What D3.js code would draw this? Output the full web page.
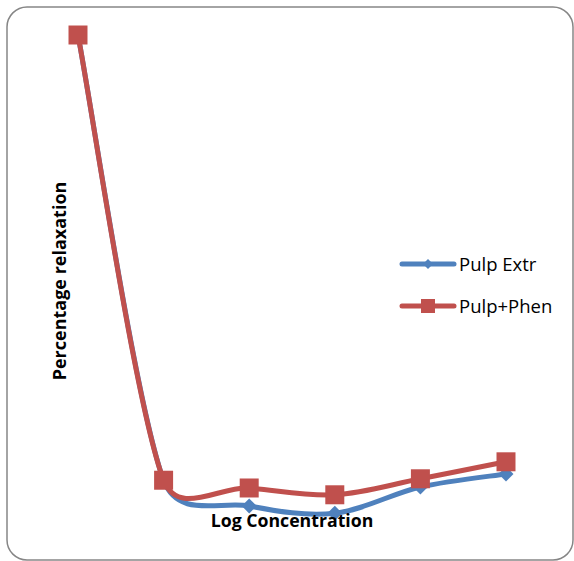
<!DOCTYPE html>
<html><head><meta charset="utf-8">
<script src="https://cdn.jsdelivr.net/npm/d3@7"></script>
<style>body{margin:0;background:#fff}svg{display:block}</style>
</head><body>
<svg id="c" width="574" height="561"></svg>
<script>
const categories = ["c1","c2","c3","c4","c5","c6"];
const pulpExtr = [100, 8.2, 2.9, 1.4, 6.8, 9.5];
const pulpPhen = [100, 8.2, 6.6, 5.2, 8.5, 12.0];
const seriesNames = ["Pulp Extr", "Pulp+Phen"];
const seriesColors = ["#4F81BD", "#C0504D"];

// Excel-like smoothed line: cubic Bezier, arms = tangent/6, capped relative to segment length
function ExcelSmooth(context){ this._context = context; }
ExcelSmooth.prototype = {
  areaStart(){ this._line = 0; }, areaEnd(){ this._line = NaN; },
  lineStart(){ this._pts = []; },
  point(x, y){ this._pts.push([+x, +y]); },
  lineEnd(){
    const p = this._pts, c = this._context, n = p.length;
    if (!n) return;
    c.moveTo(p[0][0], p[0][1]);
    const dist = (a,b)=>Math.hypot(a[0]-b[0], a[1]-b[1]);
    const arm = (i, j) => { // arm at point i pointing towards neighbour j
      const prev = p[Math.max(i-1,0)], next = p[Math.min(i+1,n-1)];
      let tx = (next[0]-prev[0])/6, ty = (next[1]-prev[1])/6;
      if (j < i) { tx = -tx; ty = -ty; }
      const len = Math.hypot(tx, ty), cap = 0.47*dist(p[i], p[j]);
      if (len > cap && len > 0) { tx *= cap/len; ty *= cap/len; }
      return [p[i][0]+tx, p[i][1]+ty];
    };
    for (let i = 0; i < n-1; i++) {
      const a = arm(i, i+1), b = arm(i+1, i);
      c.bezierCurveTo(a[0], a[1], b[0], b[1], p[i+1][0], p[i+1][1]);
    }
  }
};
const curveExcel = ctx => new ExcelSmooth(ctx);

const svg = d3.select("#c");
svg.append("rect").attr("x",7).attr("y",7).attr("width",566).attr("height",553)
  .attr("rx",20).attr("ry",20).attr("fill","#fff").attr("stroke","#868686").attr("stroke-width",1.5);

const x = d3.scalePoint().domain(categories).range([78, 506]);
const y = d3.scaleLinear().domain([0, 100]).range([520, 35]);

const line = d3.line().x((d,i)=>x(categories[i])).y(d=>y(d)).curve(curveExcel);

const series = [pulpExtr, pulpPhen];
series.forEach((vals, s) => {
  svg.append("path").attr("d", line(vals)).attr("fill","none")
    .attr("stroke", seriesColors[s]).attr("stroke-width",5).attr("stroke-linejoin","round").attr("stroke-linecap","round");
  const sym = s === 0 ? d3.symbol(d3.symbolSquare, 112) : d3.symbol(d3.symbolSquare, 361);
  svg.selectAll(null).data(vals).enter().append("path")
    .attr("d", sym)
    .attr("transform", (d,i)=>`translate(${x(categories[i])},${y(d)})` + (s===0?" rotate(45)":""))
    .attr("fill", seriesColors[s]);
});

// axis titles
svg.append("text").attr("transform","translate(66,281) rotate(-90)").attr("text-anchor","middle")
  .attr("font-family","Open Sans, sans-serif").attr("font-weight","bold").attr("font-size",18)
  .text("Percentage relaxation");
svg.append("text").attr("x",292).attr("y",527).attr("text-anchor","middle")
  .attr("font-family","Open Sans, sans-serif").attr("font-weight","bold").attr("font-size",17.7)
  .text("Log Concentration");

// legend
const leg = svg.append("g");
seriesNames.forEach((n, s) => {
  const ly = 264 + s*42;
  leg.append("line").attr("x1",402).attr("x2",454).attr("y1",ly).attr("y2",ly)
    .attr("stroke",seriesColors[s]).attr("stroke-width",5).attr("stroke-linecap","round");
  const sym = s === 0 ? d3.symbol(d3.symbolSquare, 50) : d3.symbol(d3.symbolSquare, 196);
  leg.append("path").attr("d", sym).attr("transform", `translate(428,${ly})` + (s===0?" rotate(45)":""))
    .attr("fill", seriesColors[s]);
  leg.append("text").attr("x",459).attr("y",ly+7).attr("font-family","Open Sans, sans-serif")
    .attr("font-size",18.5).attr("fill","#000").text(n);
});
</script>
</body></html>
